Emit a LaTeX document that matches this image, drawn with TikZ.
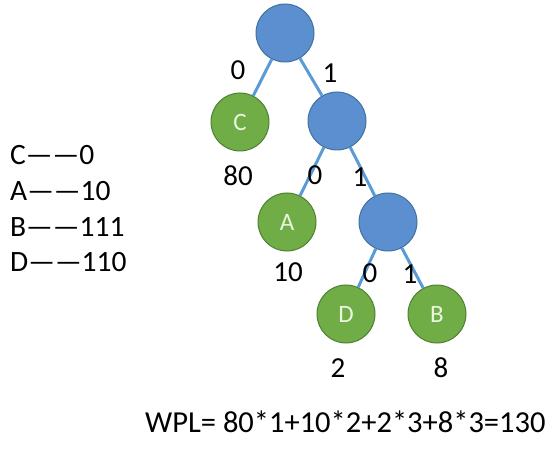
\documentclass[tikz,border=0pt]{standalone}
\usepackage{fontspec}
\setmainfont{Carlito}
\definecolor{nblue}{HTML}{5B8FCF}
\definecolor{nblueD}{HTML}{41719C}
\definecolor{ngreen}{HTML}{70AD47}
\definecolor{ngreenD}{HTML}{507E32}
\definecolor{eblue}{HTML}{5B9BD5}
\definecolor{ltext}{HTML}{EAF5E0}
\begin{document}
\begin{tikzpicture}[x=1pt,y=-1pt,
  inner/.style={circle,fill=nblue,draw=nblueD,line width=1pt,minimum size=58pt,inner sep=0pt},
  leaf/.style={circle,fill=ngreen,draw=ngreenD,line width=1pt,minimum size=58pt,inner sep=0pt,text=ltext,font=\fontsize{25}{30}\selectfont},
  edge/.style={draw=eblue,line width=3pt},
  lbl/.style={inner sep=0pt,font=\fontsize{29}{32}\selectfont},
  leg/.style={inner sep=0pt,anchor=west,font=\fontsize{29.5}{32}\selectfont}]
\useasboundingbox (0,0) rectangle (551,449);
\coordinate (pr) at (285,33);
\coordinate (pc) at (240,122);
\coordinate (pi) at (337,121);
\coordinate (pa) at (287,222);
\coordinate (pj) at (388,222);
\coordinate (pd) at (346,314);
\coordinate (pb) at (437,314);
\node[inner] (r) at (pr) {};
\node[leaf] (c) at (pc) {C};
\node[inner] (i) at (pi) {};
\node[leaf] (a) at (pa) {A};
\node[inner] (j) at (pj) {};
\node[leaf] (d) at (pd) {D};
\node[leaf] (b) at (pb) {B};
\draw[edge] (r) -- (c);
\draw[edge] (r) -- (i);
\draw[edge] (i) -- (a);
\draw[edge] (i) -- (j);
\draw[edge] (j) -- (d);
\draw[edge] (j) -- (b);
% labels
\node[lbl] (l1) at (238,70) {0};
\node[lbl] (l2) at (330,73) {1};
\node[lbl] (w1) at (238,176) {80};
\node[lbl] (l3) at (315,175) {0};
\node[lbl] (l4) at (360,177) {1};
\node[lbl] (w2) at (288,272) {10};
\node[lbl] (l5) at (370,273) {0};
\node[lbl] (l6) at (410,274) {1};
\node[lbl] (w3) at (338,368) {2};
\node[lbl] (w4) at (441,368) {8};
% legend
\node[leg] (g1) at (10,155) {C——0};
\node[leg] (g2) at (10,191) {A——10};
\node[leg] (g3) at (10,227) {B——111};
\node[leg] (g4) at (10,262) {D——110};
\node[leg,font=\fontsize{30.5}{34}\selectfont] (wpl) at (145,422) {WPL= 80*1+10*2+2*3+8*3=130};
\end{tikzpicture}
\end{document}
